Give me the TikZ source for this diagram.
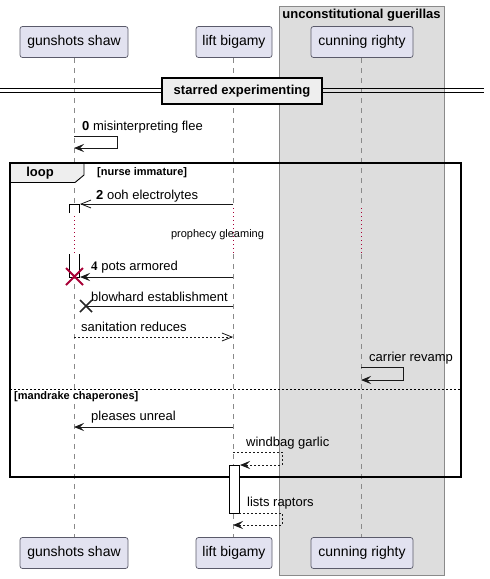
\documentclass[tikz,border=0pt]{standalone}
\usepackage{fontspec}
\setmainfont{Liberation Sans}
\newfontfamily\serifb{Liberation Serif}
\usetikzlibrary{arrows.meta}
\definecolor{partfill}{HTML}{E2E2F0}
\definecolor{partline}{HTML}{5A5A6A}
\definecolor{grpfill}{HTML}{DDDDDD}
\definecolor{grpline}{HTML}{8A8A8A}
\definecolor{lifec}{HTML}{8A8A8A}
\definecolor{delayc}{HTML}{A80036}
\definecolor{tabfill}{HTML}{EEEEEE}
\tikzset{
  part/.style={draw=partline, fill=partfill, rounded corners=2.5pt, line width=0.7pt,
    minimum height=31pt, inner xsep=6pt, font=\fontsize{14}{16}\selectfont},
  lifeline/.style={draw=lifec, line width=0.7pt, dash pattern=on 5pt off 5pt},
  delayline/.style={draw=delayc, line width=0.8pt, dash pattern=on 1pt off 3pt},
  msg/.style={draw=black!90, line width=0.9pt},
  msgd/.style={msg, dash pattern=on 2pt off 2pt},
  fhead/.style={-{Stealth[length=10pt,width=8pt,inset=4pt]}},
  ohead/.style={-{Straight Barb[length=10pt,width=8pt,line width=0.8pt]}},
  lbl/.style={anchor=west, inner sep=0pt, font=\fontsize{13}{15}\selectfont},
  blbl/.style={anchor=west, inner sep=0pt, font=\bfseries\fontsize{11}{13}\selectfont},
  actbox/.style={draw=black, fill=white, line width=0.8pt},
}
\begin{document}
\begin{tikzpicture}[x=1pt,y=-1pt]
\useasboundingbox (0,0) rectangle (490,579);
% group box
\draw[fill=grpfill, draw=grpline, line width=0.8pt] (279,6) rectangle (444,575);
\node[font=\bfseries\fontsize{13}{15}\selectfont, inner sep=0pt] (grpt) at (361.5,15) {unconstitutional guerillas};
% lifelines
\foreach \lx in {74,233,361}{
  \draw[lifeline] (\lx,58) -- (\lx,208);
  \draw[delayline] (\lx,208) -- (\lx,254);
  \draw[lifeline] (\lx,254) -- (\lx,537);
}
% participants
\node[part, minimum width=108pt] (gsT) at (74,42) {gunshots shaw};
\node[part, minimum width=76pt] (lbT) at (234,42) {lift bigamy};
\node[part, minimum width=102pt] (crT) at (362,42) {cunning righty};
\node[part, minimum width=108pt] (gsB) at (74,553) {gunshots shaw};
\node[part, minimum width=76pt] (lbB) at (234,553) {lift bigamy};
\node[part, minimum width=102pt] (crB) at (362,553) {cunning righty};
% divider
\draw[line width=0.9pt] (0,88) -- (484,88) (0,92) -- (484,92);
\node[draw, line width=1.6pt, fill=tabfill, minimum width=160pt, minimum height=26pt,
  font=\bfseries\fontsize{13}{15}\selectfont] (div) at (242,91) {starred experimenting};
% message 0
\node[lbl] (t0) at (82,127) {\textbf{0} misinterpreting flee};
\coordinate (s0a) at (74,136); \coordinate (s0b) at (117,136);
\coordinate (s0c) at (117,148); \coordinate (s0d) at (74,148);
\draw[msg, fhead] (s0a) -- (s0b) -- (s0c) -- (s0d);
% loop frame
\draw[line width=1.5pt] (10,163) rectangle (461,477);
\draw[fill=tabfill, line width=0.9pt] (10,163) -- (84,163) -- (84,175) -- (75,182.5) -- (10,182.5) -- cycle;
\draw[line width=1.5pt] (10,163) rectangle (461,477);
\node[font=\bfseries\fontsize{13}{15}\selectfont, inner sep=0pt] (loopl) at (40,173) {loop};
\node[blbl] (cond1) at (97,173) {[nurse immature]};
% message 2 + activation
\draw[actbox, fill=white] (69,213) -- (69,204) -- (79,204) -- (79,213);
\node[lbl] (t2) at (96,196) {\textbf{2} ooh electrolytes};
\coordinate (m2a) at (233,204); \coordinate (m2b) at (80,204);
\draw[msg, ohead] (m2a) -- (m2b);
% delay text
\node[inner sep=0pt, font=\fontsize{11}{13}\selectfont] (dly) at (217.5,235) {prophecy gleaming};
% activation bottom part
\fill[white] (69,254) rectangle (79,277);
\draw[actbox] (69,254) -- (69,277) -- (79,277) -- (79,254);
% message 4
\node[lbl] (t4) at (91,267) {{\serifb\bfseries 4} pots armored};
\coordinate (m4a) at (233,277); \coordinate (m4b) at (80,277);
\draw[msg, fhead] (m4a) -- (m4b);
\draw[draw=delayc, line width=2pt] (66,268) -- (83,285) (66,285) -- (83,268);
% blowhard
\node[lbl] (tb) at (91,297) {blowhard establishment};
\coordinate (mba) at (233,306); \coordinate (mbb) at (86,306);
\draw[msg] (mba) -- (mbb);
\draw[line width=1.6pt, black!85] (80,300) -- (92,312) (80,312) -- (92,300);
% sanitation
\node[lbl] (ts) at (81,327) {sanitation reduces};
\coordinate (msa) at (74,337); \coordinate (msb) at (233,337);
\draw[msgd, ohead] (msa) -- (msb);
% carrier revamp
\node[lbl] (tc) at (369,358) {carrier revamp};
\coordinate (mca) at (361,367); \coordinate (mcb) at (403,367);
\coordinate (mcc) at (403,380); \coordinate (mcd) at (361,380);
\draw[msg, fhead] (mca) -- (mcb) -- (mcc) -- (mcd);
% else
\draw[line width=0.8pt, dash pattern=on 2pt off 2pt] (10,389) -- (461,389);
\node[blbl] (cond2) at (14,397) {[mandrake chaperones]};
% pleases unreal
\node[lbl] (tp) at (91,417) {pleases unreal};
\coordinate (mpa) at (233,427); \coordinate (mpb) at (74,427);
\draw[msg, fhead] (mpa) -- (mpb);
% windbag garlic
\node[lbl] (tw) at (246,443) {windbag garlic};
\coordinate (mwa) at (233,452); \coordinate (mwb) at (282,452);
\coordinate (mwc) at (282,465); \coordinate (mwd) at (240,465);
\draw[msgd, fhead] (mwa) -- (mwb) -- (mwc) -- (mwd);
% activation lift
\draw[actbox] (229,465) rectangle (239,513);
% lists raptors
\node[lbl] (tl) at (247,503) {lists raptors};
\coordinate (mla) at (239,513); \coordinate (mlb) at (282,513);
\coordinate (mlc) at (282,525); \coordinate (mld) at (233,525);
\draw[msgd, fhead] (mla) -- (mlb) -- (mlc) -- (mld);
\end{tikzpicture}
\end{document}
